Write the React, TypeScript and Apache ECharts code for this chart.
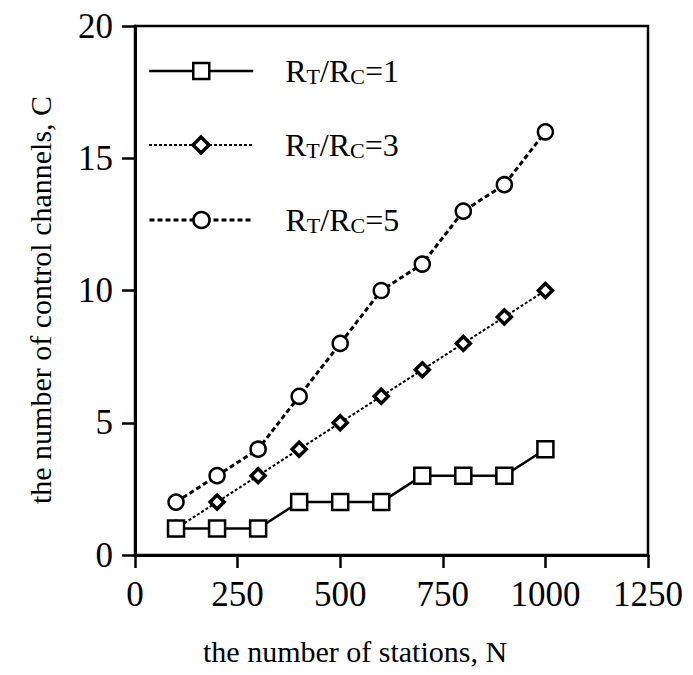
import React, { useEffect, useRef } from "react";
import * as echarts from "echarts";

const stations = [100, 200, 300, 400, 500, 600, 700, 800, 900, 1000];
const ratio1 = [1, 1, 1, 2, 2, 2, 3, 3, 3, 4];
const ratio3 = [1, 2, 3, 4, 5, 6, 7, 8, 9, 10];
const ratio5 = [2, 3, 4, 6, 8, 10, 11, 13, 14, 16];
const seriesNames = ["RT/RC=1", "RT/RC=3", "RT/RC=5"];
const ratioValues = ["1", "3", "5"];
const xTitle = "the number of stations, N";
const yTitle = "the number of control channels, C";

const FONT = "'Liberation Serif', 'Times New Roman', serif";

export default function App() {
  const ref = useRef<HTMLDivElement>(null);
  useEffect(() => {
    if (!ref.current) return;
    const chart = echarts.init(ref.current, undefined, { renderer: "svg" });
    const pairs = (ys: number[]) => stations.map((x, i) => [x, ys[i]]);
    const markerStyles = [
      { color: "#fff", borderColor: "#000", borderWidth: 2.5 },
      { color: "#fff", borderColor: "#000", borderWidth: 3.5 },
      { color: "#fff", borderColor: "#000", borderWidth: 2.5 },
    ];
    const lineStyles = [
      { color: "#000", width: 2.5, type: "solid" as any },
      { color: "#000", width: 2, type: [3, 2] as any },
      { color: "#000", width: 3, type: [5, 3] as any },
    ];
    const symbols = ["rect", "diamond", "circle"];
    const symbolSizes = [16, 14, 15];
    const dataSets = [ratio1, ratio3, ratio5];
    const legendCenters = [71, 145, 220];

    const legends = seriesNames.map((name, i) => ({
      data: [name],
      left: 148,
      top: legendCenters[i] - 16,
      padding: 0,
      itemWidth: 104,
      itemHeight: 20,
      selectedMode: false,
      itemStyle: { ...markerStyles[i] },
      lineStyle: { ...lineStyles[i] },
      formatter: () => `{g|}{r|R}{s|T}{r|/R}{s|C}{r|=${ratioValues[i]}}`,
      textStyle: {
        color: "#000",
        fontFamily: FONT,
        fontSize: 32,
        rich: {
          g: { width: 27 },
          r: { fontSize: 32, fontFamily: FONT, color: "#000", verticalAlign: "bottom" },
          s: { fontSize: 22, fontFamily: FONT, color: "#000", verticalAlign: "bottom" },
        },
      },
    }));

    const axisCommon = {
      axisLine: { show: true, onZero: false, lineStyle: { color: "#000", width: 3 } },
      axisTick: { show: true, inside: false, length: 13, lineStyle: { color: "#000", width: 2.5 } },
      axisLabel: {
        color: "#000",
        fontFamily: FONT,
        fontSize: 35,
        margin: 22,
        formatter: (v: number) => String(v),
      },
      splitLine: { show: false },
    };

    chart.setOption({
      animation: false,
      backgroundColor: "#fff",
      grid: {
        left: 135,
        right: 45,
        top: 26,
        bottom: 120,
        show: true,
        borderColor: "#000",
        borderWidth: 2.5,
        containLabel: false,
      },
      legend: legends,
      xAxis: { type: "value", min: 0, max: 1250, interval: 250, ...axisCommon },
      yAxis: { type: "value", min: 0, max: 20, interval: 5, ...axisCommon },
      graphic: [
        {
          type: "text",
          left: 203,
          top: 636,
          style: { text: xTitle, font: `30px ${FONT}`, fill: "#000" },
        },
        {
          type: "text",
          x: 40,
          y: 300,
          rotation: Math.PI / 2,
          style: {
            text: yTitle,
            font: `30px ${FONT}`,
            fill: "#000",
            textAlign: "center",
            textVerticalAlign: "middle",
          },
        },
      ],
      series: seriesNames.map((name, i) => ({
        name,
        type: "line",
        data: pairs(dataSets[i]),
        symbol: symbols[i],
        symbolSize: symbolSizes[i],
        showSymbol: true,
        itemStyle: { ...markerStyles[i] },
        lineStyle: { ...lineStyles[i] },
        z: 3 - i,
      })),
    });
    return () => chart.dispose();
  }, []);
  return (
    <div
      ref={ref}
      style={{ position: "fixed", left: 0, top: 0, width: 693, height: 675, background: "#fff" }}
    />
  );
}
